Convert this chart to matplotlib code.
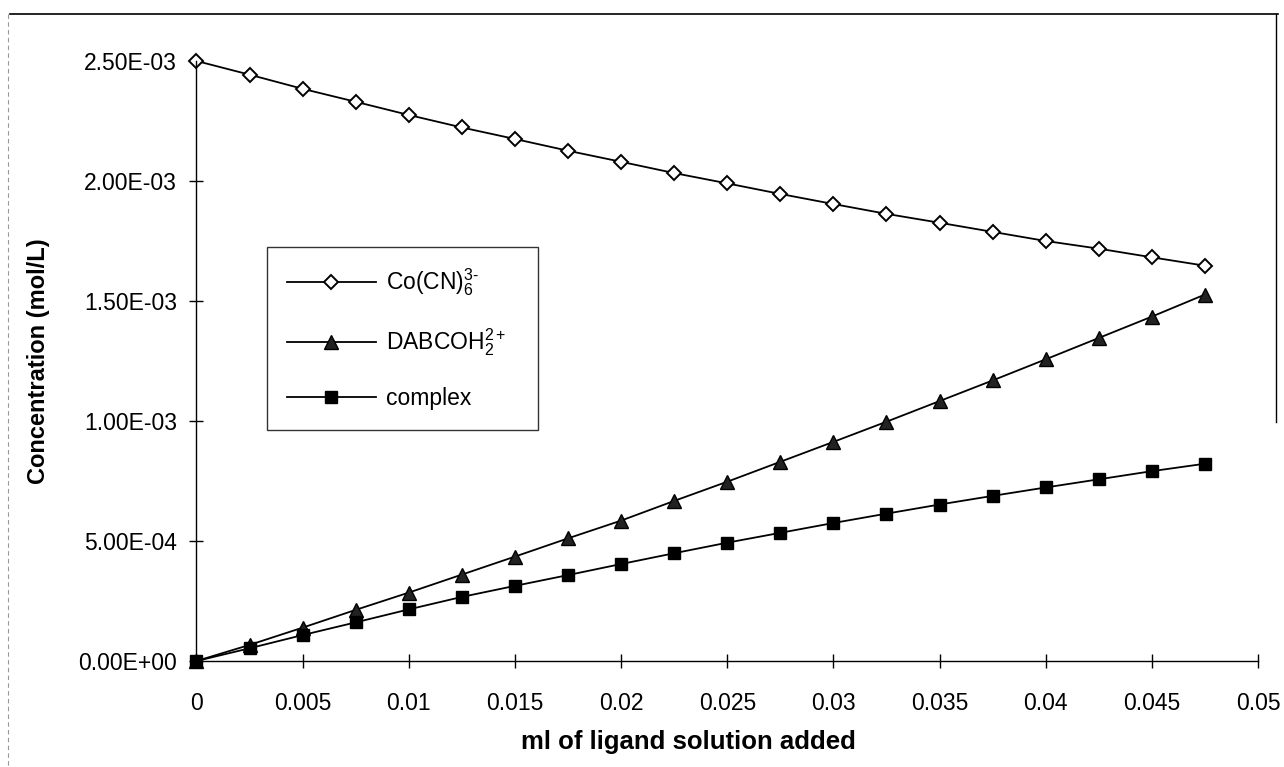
import matplotlib.pyplot as plt
from matplotlib.lines import Line2D
from matplotlib.ticker import FixedLocator, FixedFormatter

# ml of ligand solution added
volume = [0, 0.0025, 0.005, 0.0075, 0.01, 0.0125, 0.015, 0.0175, 0.02, 0.0225,
          0.025, 0.0275, 0.03, 0.0325, 0.035, 0.0375, 0.04, 0.0425, 0.045, 0.0475]

# concentrations (mol/L)
co_cn6 = [2.500e-3, 2.443e-3, 2.384e-3, 2.330e-3, 2.275e-3, 2.223e-3, 2.175e-3,
          2.126e-3, 2.080e-3, 2.033e-3, 1.990e-3, 1.946e-3, 1.904e-3, 1.863e-3,
          1.826e-3, 1.788e-3, 1.750e-3, 1.718e-3, 1.682e-3, 1.647e-3]
dabcoh2 = [0.0, 0.067e-3, 0.139e-3, 0.213e-3, 0.285e-3, 0.360e-3, 0.435e-3,
           0.511e-3, 0.585e-3, 0.667e-3, 0.747e-3, 0.830e-3, 0.913e-3, 0.997e-3,
           1.083e-3, 1.169e-3, 1.257e-3, 1.346e-3, 1.435e-3, 1.527e-3]
complex_ = [0.0, 0.053e-3, 0.108e-3, 0.161e-3, 0.215e-3, 0.267e-3, 0.313e-3,
            0.358e-3, 0.404e-3, 0.449e-3, 0.493e-3, 0.534e-3, 0.575e-3, 0.614e-3,
            0.652e-3, 0.688e-3, 0.723e-3, 0.757e-3, 0.791e-3, 0.822e-3]

series_names = [r'Co(CN)$_6^{3\text{-}}$', r'DABCOH$_2^{2+}$', 'complex']

x_ticks = [0, 0.005, 0.01, 0.015, 0.02, 0.025, 0.03, 0.035, 0.04, 0.045, 0.05]
x_tick_labels = ['0', '0.005', '0.01', '0.015', '0.02', '0.025', '0.03',
                 '0.035', '0.04', '0.045', '0.05']
y_ticks = [0, 5e-4, 1e-3, 1.5e-3, 2e-3, 2.5e-3]
y_tick_labels = ['0.00E+00', '5.00E-04', '1.00E-03', '1.50E-03', '2.00E-03', '2.50E-03']

plt.rcParams['font.family'] = ['Liberation Sans', 'DejaVu Sans']
plt.rcParams['mathtext.fontset'] = 'custom'
plt.rcParams['mathtext.rm'] = 'Liberation Sans'
plt.rcParams['mathtext.it'] = 'Liberation Sans'
plt.rcParams['mathtext.default'] = 'regular'

fig = plt.figure(figsize=(12.84, 7.67), dpi=100)
ax = fig.add_axes([0.153, 0.1382, 0.8268, 0.7823])

ax.plot(volume, co_cn6, color='black', lw=1.3, marker='D', ms=7,
        mfc='white', mec='black', mew=1.4, clip_on=False, label=series_names[0])
ax.plot(volume, dabcoh2, color='black', lw=1.3, marker='^', ms=10,
        mfc='#222222', mec='black', mew=1.0, clip_on=False, label=series_names[1])
ax.plot(volume, complex_, color='black', lw=1.3, marker='s', ms=8.5,
        mfc='black', mec='black', clip_on=False, label=series_names[2])

ax.set_xlim(0, 0.05)
ax.set_ylim(0, 2.5e-3)
ax.xaxis.set_major_locator(FixedLocator(x_ticks))
ax.xaxis.set_major_formatter(FixedFormatter(x_tick_labels))
ax.yaxis.set_major_locator(FixedLocator(y_ticks))
ax.yaxis.set_major_formatter(FixedFormatter(y_tick_labels))

for side in ['top', 'right']:
    ax.spines[side].set_visible(False)
for side in ['left', 'bottom']:
    ax.spines[side].set_linewidth(1.0)

ax.tick_params(axis='both', direction='inout', length=10, width=1.0,
               labelsize=16.5)
ax.tick_params(axis='x', pad=17)
ax.tick_params(axis='y', pad=9)

ax.set_xlabel('ml of ligand solution added', fontsize=18.5, fontweight='bold')
ax.set_ylabel('Concentration (mol/L)', fontsize=17, fontweight='bold')
ax.xaxis.set_label_coords(0.463, -0.115)
ax.yaxis.set_label_coords(-0.138, 0.5)

leg = ax.legend(loc='upper left', bbox_to_anchor=(0.208, 0.678, 0.211, 0.0),
                bbox_transform=fig.transFigure, mode='expand', borderaxespad=0,
                fontsize=16.5, frameon=True, fancybox=False, handlelength=3.9,
                handletextpad=0.45, labelspacing=1.25, borderpad=0.85)
leg.get_frame().set_edgecolor('black')
leg.get_frame().set_linewidth(1.0)

# scanned chart border
fig.add_artist(Line2D([0.008, 0.995], [0.982, 0.982], color='black', lw=1.2,
                      transform=fig.transFigure))
fig.add_artist(Line2D([0.994, 0.994], [0.982, 0.45], color='black', lw=1.0,
                      transform=fig.transFigure))
fig.add_artist(Line2D([0.006, 0.006], [0.982, 0.0], color='#999999', lw=0.8,
                      ls=(0, (4, 3)), transform=fig.transFigure))

plt.savefig('out.png', dpi=100)
